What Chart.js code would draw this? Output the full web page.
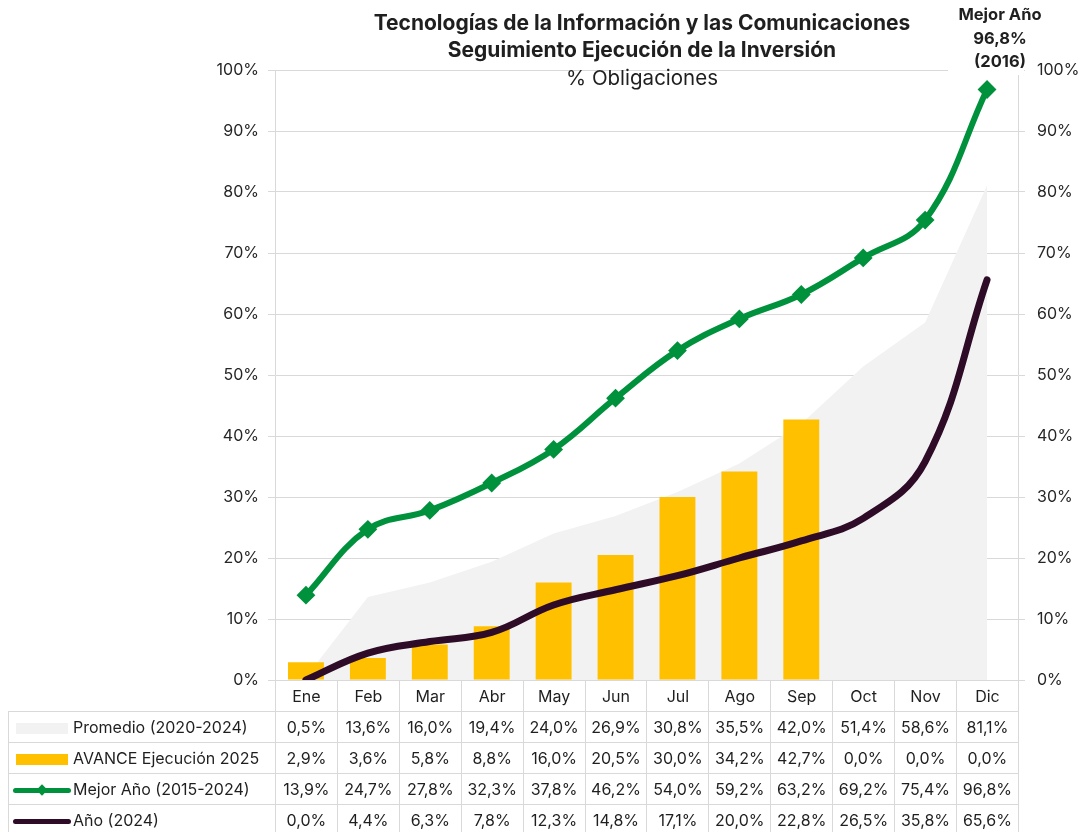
<!DOCTYPE html>
<html lang="es">
<head>
<meta charset="utf-8">
<script src="https://cdn.jsdelivr.net/npm/chart.js@4.4.1/dist/chart.umd.min.js"></script>
<style>
  body { margin: 0; background: #fff; font-family: Inter, "Noto Sans", sans-serif; color: #1f1f1f; }
  #wrap { position: relative; width: 1084px; height: 832px; overflow: hidden; }
  #chart { position: absolute; left: 0; top: 0; }
  .tit { position: absolute; left: 292px; width: 700px; text-align: center; font-size: 20.5px; line-height: 27px; white-space: nowrap; }
  .tit.b { font-weight: 700; font-size: 21px; }
  #tapa { position: absolute; left: 948px; top: 0; width: 76px; height: 75px; background: #fff; }
  #nota { position: absolute; left: 950px; top: 3px; width: 100px; text-align: center; font-weight: 700;
          font-size: 16.5px; line-height: 23.5px; white-space: nowrap; }
  #tabla { position: absolute; border-collapse: collapse; table-layout: fixed; font-size: 16px; }
  #tabla td, #tabla th { border: 1px solid #d9d9d9; height: 30px; padding: 0; text-align: center;
                         white-space: nowrap; font-weight: 400; overflow: hidden; }
  #tabla th.vacio { border: none; border-right: 1px solid #d9d9d9; }
  #tabla td.serie { text-align: left; }
  .sw { display: inline-block; vertical-align: middle; position: relative; }
  .sw.rect { width: 52px; height: 11px; margin-left: 7px; margin-right: 5px; }
  .sw.linea { width: 58px; height: 5px; border-radius: 3px; margin-left: 4px; margin-right: 2px; }
  .sw.linea i { position: absolute; left: 25px; top: -2px; width: 8px; height: 8px; transform: rotate(45deg); }
</style>
</head>
<body>
<div id="wrap">
  <canvas id="chart" width="1084" height="832"></canvas>
  <div class="tit b" style="top:9px">Tecnologías de la Información y las Comunicaciones</div>
  <div class="tit b" style="top:36px">Seguimiento Ejecución de la Inversión</div>
  <div class="tit" style="top:64px">% Obligaciones</div>
  <div id="tapa"></div>
  <div id="nota">Mejor Año<br>96,8%<br>(2016)</div>
  <table id="tabla"></table>
</div>
<script>
/* datos --------------------------------------------------- */
const meses     = ['Ene', 'Feb', 'Mar', 'Abr', 'May', 'Jun', 'Jul', 'Ago', 'Sep', 'Oct', 'Nov', 'Dic'];
const promedio  = [0.5, 13.6, 16.0, 19.4, 24.0, 26.9, 30.8, 35.5, 42.0, 51.4, 58.6, 81.1];
const avance    = [2.9, 3.6, 5.8, 8.8, 16.0, 20.5, 30.0, 34.2, 42.7, 0.0, 0.0, 0.0];
const mejorAnio = [13.9, 24.7, 27.8, 32.3, 37.8, 46.2, 54.0, 59.2, 63.2, 69.2, 75.4, 96.8];
const anio2024  = [0.0, 4.4, 6.3, 7.8, 12.3, 14.8, 17.1, 20.0, 22.8, 26.5, 35.8, 65.6];

const GRIS = '#f2f2f2', AMARILLO = '#ffc000', VERDE = '#00913d', MORADO = '#2e0b27', REJILLA = '#d9d9d9';

const pct = v => v.toFixed(1).replace('.', ',') + '%';

/* ejes % -------------------------------------------------- */
function ejeY(pos, ancho, pad) {
  return {
    position: pos, min: 0, max: 100,
    ticks: { stepSize: 10, callback: v => v + '%', color: '#262626', padding: pad,
             font: { family: 'Inter', size: 16 } },
    grid: { color: REJILLA, tickLength: 7, drawOnChartArea: pos === 'left' },
    border: { color: REJILLA },
    afterFit: s => { s.width = ancho; }
  };
}

const chart = new Chart(document.getElementById('chart'), {
  data: {
    labels: meses,
    datasets: [
      { type: 'line', label: 'Promedio (2020-2024)', data: promedio, fill: 'origin',
        backgroundColor: GRIS, borderWidth: 0, pointRadius: 0, tension: 0, order: 4 },
      { type: 'bar', label: 'AVANCE Ejecución 2025', data: avance, backgroundColor: AMARILLO,
        barPercentage: 0.58, categoryPercentage: 1, order: 3 },
      { type: 'line', label: 'Año (2024)', data: anio2024, borderColor: MORADO, borderWidth: 7,
        borderCapStyle: 'round', pointRadius: 0, tension: 0.4, order: 2 },
      { type: 'line', label: 'Mejor Año (2015-2024)', data: mejorAnio, borderColor: VERDE, borderWidth: 6,
        pointStyle: 'rectRot', pointRadius: 8, pointBackgroundColor: VERDE, pointBorderColor: VERDE,
        pointBorderWidth: 2, tension: 0.4, order: 1 }
    ]
  },
  options: {
    responsive: false,
    animation: false,
    layout: { padding: { top: 70, bottom: 121, left: 0, right: 0 } },
    plugins: { legend: { display: false }, tooltip: { enabled: false } },
    scales: {
      x: { grid: { display: false }, border: { display: false }, ticks: { display: false },
           afterFit: s => { s.height = 31; } },
      y: ejeY('left', 275, 9),
      y2: ejeY('right', 66, 12)
    }
  }
});

/* tabla de datos ------------------------------------------ */
const ca = chart.chartArea;
const colW = (ca.right - ca.left) / meses.length;
const tabla = document.getElementById('tabla');
tabla.style.left = '8px';
tabla.style.top = ca.bottom + 'px';
tabla.style.width = (ca.right - 8) + 'px';

const filas = [
  { nombre: 'Promedio (2020-2024)',  valores: promedio,  sw: `<span class="sw rect" style="background:${GRIS}"></span>` },
  { nombre: 'AVANCE Ejecución 2025', valores: avance,    sw: `<span class="sw rect" style="background:${AMARILLO}"></span>` },
  { nombre: 'Mejor Año (2015-2024)', valores: mejorAnio, sw: `<span class="sw linea" style="background:${VERDE}"><i style="background:${VERDE}"></i></span>` },
  { nombre: 'Año (2024)',            valores: anio2024,  sw: `<span class="sw linea" style="background:${MORADO}"></span>` }
];

let html = `<colgroup><col style="width:${ca.left - 8}px">` +
  meses.map(() => `<col style="width:${colW}px">`).join('') + '</colgroup>';
html += '<tr><th class="vacio"></th>' + meses.map(m => `<th>${m}</th>`).join('') + '</tr>';
filas.forEach(f => {
  html += `<tr><td class="serie">${f.sw}${f.nombre}</td>` +
    f.valores.map(v => `<td>${pct(v)}</td>`).join('') + '</tr>';
});
tabla.innerHTML = html;
</script>
</body>
</html>
